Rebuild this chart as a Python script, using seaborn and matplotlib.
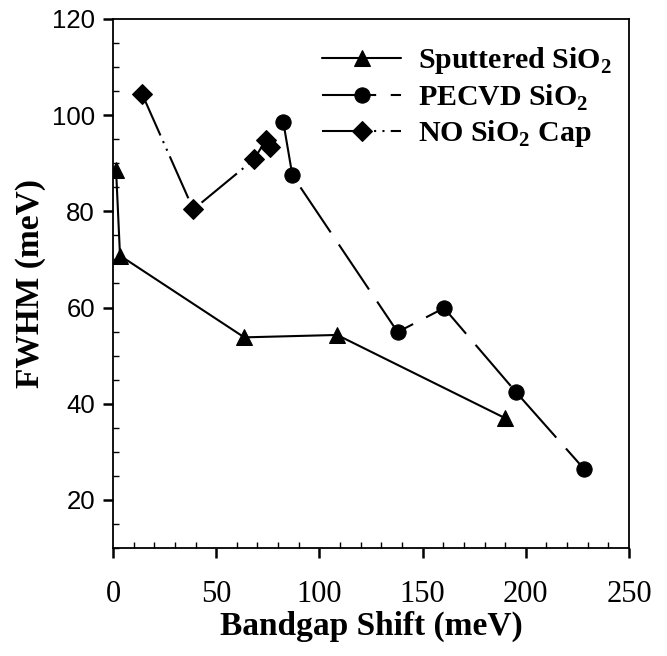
import matplotlib
matplotlib.use("Agg")
import matplotlib.pyplot as plt
import seaborn as sns
import pandas as pd
from matplotlib.ticker import MultipleLocator

# Data
sput_x = [1.5, 3.4, 63.6, 108.6, 190.0]
sput_y = [88.5, 70.8, 53.8, 54.3, 37.0]
pecvd_x = [82.5, 86.9, 137.9, 160.4, 195.3, 228.3]
pecvd_y = [98.6, 87.5, 54.9, 59.9, 42.4, 26.4]
nocap_x = [14.0, 38.9, 68.3, 74.0, 76.1]
nocap_y = [104.5, 80.4, 90.8, 94.8, 93.4]
labels = ["Sputtered SiO$_\\mathbf{2}$", "PECVD SiO$_\\mathbf{2}$", "NO SiO$_\\mathbf{2}$ Cap"]
x_ticks = [0, 50, 100, 150, 200, 250]
y_ticks = [20, 40, 60, 80, 100, 120]

sns.set_style("ticks")
plt.rcParams["mathtext.fontset"] = "custom"
plt.rcParams["mathtext.rm"] = "Liberation Serif"
plt.rcParams["mathtext.bf"] = "Liberation Serif:bold"
plt.rcParams["text.color"] = "black"
plt.rcParams["axes.labelcolor"] = "black"
plt.rcParams["xtick.color"] = "black"
plt.rcParams["ytick.color"] = "black"
plt.rcParams["axes.edgecolor"] = "black"

fig = plt.figure(figsize=(6.67, 6.56), dpi=100)
ax = fig.add_axes([113/667, 1-548/656, 516/667, 529/656])

df_s = pd.DataFrame({"x": sput_x, "y": sput_y})
df_p = pd.DataFrame({"x": pecvd_x, "y": pecvd_y})
df_n = pd.DataFrame({"x": nocap_x, "y": nocap_y})

sns.lineplot(data=df_s, x="x", y="y", ax=ax, sort=False, estimator=None, color="black",
             marker="^", markersize=12, markeredgecolor="black", linewidth=1.5,
             linestyle="-", label=labels[0])
sns.lineplot(data=df_p, x="x", y="y", ax=ax, sort=False, estimator=None, color="black",
             marker="o", markersize=11, markeredgecolor="black", linewidth=1.5,
             linestyle=(0, (26, 7)), label=labels[1])
sns.lineplot(data=df_n, x="x", y="y", ax=ax, sort=False, estimator=None, color="black",
             marker="D", markersize=10, markeredgecolor="black", linewidth=1.5,
             linestyle=(0, (22, 3, 1, 3, 1, 3)), label=labels[2])

ax.set_xlim(0, 250)
ax.set_ylim(10, 120)
ax.set_xticks(x_ticks)
ax.set_yticks(y_ticks)
ax.xaxis.set_minor_locator(MultipleLocator(10))
ax.yaxis.set_minor_locator(MultipleLocator(5))
ax.tick_params(axis="both", which="major", direction="out", length=7, width=1.8, color="black")
ax.tick_params(axis="both", which="minor", direction="in", length=4.5, width=1.0, color="black")
ax.tick_params(top=False, right=False, which="both")
for lab in ax.get_xticklabels():
    lab.set_fontfamily("Liberation Serif")
    lab.set_fontsize(22)
for lab in ax.get_yticklabels():
    lab.set_fontfamily("Liberation Sans")
    lab.set_fontsize(18.5)
ax.tick_params(axis="x", pad=16)
ax.tick_params(axis="y", pad=6)

for sp in ax.spines.values():
    sp.set_visible(True)
    sp.set_linewidth(1.3)
    sp.set_color("black")

ax.set_xlabel("Bandgap Shift (meV)", fontfamily="Liberation Serif", fontweight="bold", fontsize=24, labelpad=1)
ax.set_ylabel("FWHM (meV)", fontfamily="Liberation Serif", fontweight="bold", fontsize=24, labelpad=4)

leg = ax.legend(loc="upper left", bbox_to_anchor=(0.405, 0.95), frameon=False,
                prop={"family": "Liberation Serif", "weight": "bold", "size": 21.5},
                handlelength=2.65, handletextpad=0.55, labelspacing=0.2, borderpad=0,
                borderaxespad=0)

fig.savefig("out.png", dpi=100)
